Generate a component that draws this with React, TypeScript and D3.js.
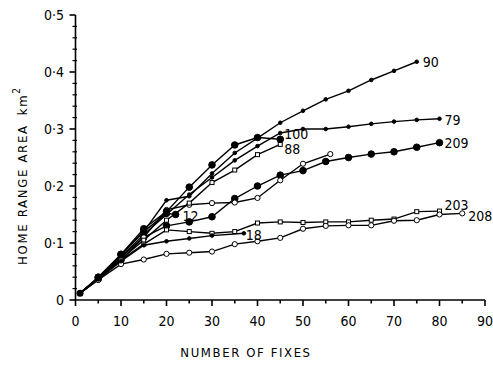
import React, { useEffect, useRef } from "react";
import * as d3 from "d3";

// home range area (km2) against number of fixes, one array per animal
const xTicks = [0, 10, 20, 30, 40, 50, 60, 70, 80, 90];
const yTicks = [0, 0.1, 0.2, 0.3, 0.4, 0.5];

const a90 = [[1, 0.012], [5, 0.038], [10, 0.078], [15, 0.12], [20, 0.175], [25, 0.182], [30, 0.222], [35, 0.258], [40, 0.284], [45, 0.311], [50, 0.332], [55, 0.352], [60, 0.367], [65, 0.386], [70, 0.402], [75, 0.418]];
const a79 = [[1, 0.012], [5, 0.038], [10, 0.075], [15, 0.115], [20, 0.15], [25, 0.185], [30, 0.215], [35, 0.245], [40, 0.27], [45, 0.293], [50, 0.3], [55, 0.3], [60, 0.304], [65, 0.309], [70, 0.313], [75, 0.316], [80, 0.318]];
const a100 = [[1, 0.012], [5, 0.04], [10, 0.08], [15, 0.125], [20, 0.155], [25, 0.198], [30, 0.237], [35, 0.272], [40, 0.285], [45, 0.282]];
const a88 = [[1, 0.012], [5, 0.038], [10, 0.072], [15, 0.105], [20, 0.14], [25, 0.17], [30, 0.206], [35, 0.228], [40, 0.255], [45, 0.273]];
const a209 = [[1, 0.012], [5, 0.037], [10, 0.07], [15, 0.11], [20, 0.13], [25, 0.137], [30, 0.146], [35, 0.178], [40, 0.2], [45, 0.219], [50, 0.227], [55, 0.243], [60, 0.25], [65, 0.256], [70, 0.26], [75, 0.268], [80, 0.276]];
const aOpen = [[1, 0.012], [5, 0.038], [10, 0.075], [15, 0.11], [20, 0.158], [25, 0.167], [30, 0.17], [35, 0.171], [40, 0.179], [45, 0.21], [50, 0.239], [56, 0.256]];
const a203 = [[1, 0.012], [5, 0.037], [10, 0.07], [15, 0.098], [20, 0.123], [25, 0.12], [30, 0.117], [35, 0.12], [40, 0.135], [45, 0.137], [50, 0.136], [55, 0.137], [60, 0.137], [65, 0.14], [70, 0.142], [75, 0.155], [80, 0.156]];
const a208 = [[1, 0.012], [5, 0.035], [10, 0.063], [15, 0.071], [20, 0.081], [25, 0.083], [30, 0.085], [35, 0.098], [40, 0.103], [45, 0.109], [50, 0.125], [55, 0.13], [60, 0.131], [65, 0.131], [70, 0.139], [75, 0.14], [80, 0.15], [85, 0.152]];
const a12 = [[1, 0.012], [5, 0.04], [10, 0.08], [15, 0.12], [20, 0.152], [22, 0.15]];
const a18 = [[1, 0.012], [5, 0.036], [10, 0.068], [15, 0.096], [20, 0.103], [25, 0.108], [30, 0.113], [37, 0.117]];

const FONT = "'DejaVu Sans', sans-serif";

function App() {
  const ref = useRef(null);

  useEffect(() => {
    const svg = d3.select(ref.current);
    svg.selectAll("*").remove();

    const x = d3.scaleLinear().domain([0, 90]).range([75.5, 485]);
    const y = d3.scaleLinear().domain([0, 0.5]).range([300, 15]);

    // axes
    const ax = svg.append("g").attr("stroke", "#000").attr("stroke-width", 1.6);
    ax.append("line").attr("x1", x(0)).attr("x2", x(90)).attr("y1", y(0)).attr("y2", y(0));
    ax.append("line").attr("x1", x(0)).attr("x2", x(0)).attr("y1", y(0)).attr("y2", y(0.5));

    d3.range(0, 91, 5).forEach(v => {
      ax.append("line").attr("x1", x(v)).attr("x2", x(v))
        .attr("y1", y(0)).attr("y2", y(0) + (v % 10 === 0 ? 6 : 3.5));
    });
    d3.range(0, 26).forEach(i => {
      const v = i * 0.02;
      const major = i % 5 === 0;
      ax.append("line").attr("x1", x(0) - (major ? 6 : 3)).attr("x2", x(0) + (major ? 0 : 1.5))
        .attr("y1", y(v)).attr("y2", y(v)).attr("stroke-width", major ? 1.6 : 1.2);
    });

    const txt = sel => sel.attr("font-family", FONT).attr("font-stretch", "condensed");

    svg.append("g").selectAll("text").data(xTicks).join("text")
      .attr("x", d => x(d)).attr("y", 326)
      .attr("text-anchor", "middle")
      .attr("font-size", 14)
      .call(txt)
      .text(d => d);

    svg.append("g").selectAll("text").data(yTicks).join("text")
      .attr("x", 64).attr("y", d => y(d) + 5)
      .attr("text-anchor", "end")
      .attr("font-size", 14)
      .call(txt)
      .text(d => d === 0 ? "0" : d3.format(".1f")(d).replace(".", "·"));

    svg.append("text")
      .attr("x", 246).attr("y", 357)
      .attr("text-anchor", "middle")
      .attr("font-size", 13)
      .attr("letter-spacing", 1.6)
      .call(txt)
      .text("NUMBER OF FIXES");

    const yt = svg.append("text")
      .attr("transform", "translate(27,265) rotate(-90)")
      .attr("font-size", 13)
      .attr("letter-spacing", 1.7)
      .call(txt);
    yt.append("tspan").text("HOME RANGE AREA");
    yt.append("tspan").attr("dx", 9).text("km");
    yt.append("tspan").attr("dy", -7).attr("font-size", 10).text("2");

    const line = d3.line().x(d => x(d[0])).y(d => y(d[1]));

    const series = [
      { name: "90", data: a90, mark: "dot" },
      { name: "79", data: a79, mark: "dot" },
      { name: "209", data: a209, mark: "big" },
      { name: "", data: aOpen, mark: "open" },
      { name: "88", data: a88, mark: "square" },
      { name: "100", data: a100, mark: "big" },
      { name: "203", data: a203, mark: "square" },
      { name: "208", data: a208, mark: "open" },
      { name: "18", data: a18, mark: "dot" },
      { name: "12", data: a12, mark: "big" },
    ];

    // where each end label sits relative to the last point
    const labelOffset = {
      "90": [6, 5], "79": [5, 6], "209": [5, 5], "100": [4, 0], "88": [4, 10],
      "203": [5, -1], "208": [6, 8], "18": [2, 7], "12": [7, 6.5],
    };

    series.forEach(s => {
      const g = svg.append("g");
      g.append("path").datum(s.data)
        .attr("fill", "none").attr("stroke", "#000").attr("stroke-width", 1.4)
        .attr("d", line);

      if (s.mark === "square") {
        g.selectAll("rect").data(s.data.slice(1)).join("rect")
          .attr("x", d => x(d[0]) - 2).attr("y", d => y(d[1]) - 2)
          .attr("width", 4).attr("height", 4)
          .attr("fill", "#fff").attr("stroke", "#000").attr("stroke-width", 1);
      } else {
        g.selectAll("circle").data(s.data.slice(1)).join("circle")
          .attr("cx", d => x(d[0])).attr("cy", d => y(d[1]))
          .attr("r", s.mark === "big" ? 3.3 : s.mark === "open" ? 2.6 : 1.8)
          .attr("fill", s.mark === "open" ? "#fff" : "#000")
          .attr("stroke", "#000").attr("stroke-width", 1);
      }

      if (s.name) {
        const last = s.data[s.data.length - 1];
        const off = labelOffset[s.name];
        svg.append("text")
          .attr("x", x(last[0]) + off[0]).attr("y", y(last[1]) + off[1])
          .attr("font-size", 14)
          .call(txt)
          .text(s.name);
      }
    });

    svg.append("circle").attr("cx", x(1)).attr("cy", y(0.012)).attr("r", 3.5).attr("fill", "#000");
  }, []);

  return (
    <svg ref={ref} width={493} height={365}
      style={{ position: "absolute", left: 0, top: 0, background: "#fff" }} />
  );
}

export default App;
